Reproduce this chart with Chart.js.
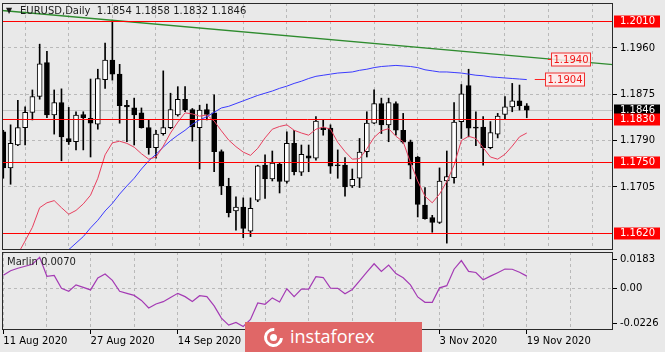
<!DOCTYPE html>
<html><head><meta charset="utf-8">
<script src="https://cdn.jsdelivr.net/npm/chart.js@4/dist/chart.umd.min.js"></script>
<style>
html,body{margin:0;padding:0;background:#E9E9E9;}
#wrap{position:relative;width:665px;height:352px;overflow:hidden;background:#E9E9E9;}
canvas{position:absolute;left:0;}
#main{top:0;}
#sub{top:251px;}
.t{position:absolute;font-family:'DejaVu Sans';font-size:10px;color:#1c1c1c;white-space:pre;line-height:12px;}
#wm{position:absolute;left:245px;top:322px;width:177px;height:30px;background:#E06767;}
#wm span{position:absolute;left:45px;top:2px;color:#fff;font-family:'Open Sans';font-size:18px;line-height:24px;}
#logo{position:absolute;left:19px;top:6px;width:13px;height:13px;border:3px solid #fff;border-right-color:transparent;border-radius:50%;transform:rotate(-40deg);}
#logo2{position:absolute;left:25px;top:12px;width:7px;height:7px;background:#fff;border-radius:50%;}
</style></head><body>
<div id="wrap">
<canvas id="main" width="665" height="251"></canvas>
<canvas id="sub" width="665" height="101"></canvas>
<div class="t" id="tri" style="left:6px;top:5px;font-size:8px;">▼</div>
<div class="t" id="title" style="left:20px;top:5px;"></div>
<div class="t" id="mlab" style="left:7px;top:256px;"></div>
<div id="wm"><div id="logo"></div><div id="logo2"></div><span>instaforex</span></div>
</div>
<script>
const symbolName = "EURUSD,Daily";
const dates = ["11 Aug 2020","12 Aug 2020","13 Aug 2020","14 Aug 2020","17 Aug 2020","18 Aug 2020","19 Aug 2020","20 Aug 2020","21 Aug 2020","24 Aug 2020","25 Aug 2020","26 Aug 2020","27 Aug 2020","28 Aug 2020","31 Aug 2020",
"1 Sep 2020","2 Sep 2020","3 Sep 2020","4 Sep 2020","7 Sep 2020","8 Sep 2020","9 Sep 2020","10 Sep 2020","11 Sep 2020","14 Sep 2020","15 Sep 2020","16 Sep 2020","17 Sep 2020","18 Sep 2020","21 Sep 2020","22 Sep 2020","23 Sep 2020","24 Sep 2020","25 Sep 2020","28 Sep 2020","29 Sep 2020","30 Sep 2020",
"1 Oct 2020","2 Oct 2020","5 Oct 2020","6 Oct 2020","7 Oct 2020","8 Oct 2020","9 Oct 2020","12 Oct 2020","13 Oct 2020","14 Oct 2020","15 Oct 2020","16 Oct 2020","19 Oct 2020","20 Oct 2020","21 Oct 2020","22 Oct 2020","23 Oct 2020","26 Oct 2020","27 Oct 2020","28 Oct 2020","29 Oct 2020","30 Oct 2020",
"2 Nov 2020","3 Nov 2020","4 Nov 2020","5 Nov 2020","6 Nov 2020","9 Nov 2020","10 Nov 2020","11 Nov 2020","12 Nov 2020","13 Nov 2020","16 Nov 2020","17 Nov 2020","18 Nov 2020","19 Nov 2020"];
const opens  = [1.1806,1.1740,1.1782,1.1814,1.1842,1.1871,1.1933,1.1837,1.1860,1.1794,1.1788,1.1838,1.1831,1.1820,1.1902,1.1938,1.1912,1.1855,1.1850,1.1841,1.1814,1.1777,1.1803,1.1814,1.1837,1.1866,1.1847,1.1814,1.1847,1.1841,1.1770,1.1706,1.1661,1.1668,1.1624,1.1681,1.1745,1.1720,1.1747,1.1715,1.1785,1.1732,1.1762,1.1758,1.1813,1.1813,1.1745,1.1745,1.1707,1.1721,1.1770,1.1822,1.1858,1.1819,1.1858,1.1809,1.1788,1.1760,1.1672,1.1649,1.1640,1.1716,1.1722,1.1825,1.1891,1.1814,1.1815,1.1777,1.1802,1.1838,1.1852,1.1863,1.1854];
const highs  = [1.1809,1.1819,1.1864,1.1852,1.1883,1.1967,1.1954,1.1883,1.1885,1.1851,1.1843,1.1843,1.1903,1.1921,1.1969,1.2011,1.1930,1.1864,1.1868,1.1850,1.1828,1.1809,1.1918,1.1877,1.1889,1.1889,1.1849,1.1855,1.1857,1.1874,1.1773,1.1721,1.1687,1.1685,1.1685,1.1745,1.1764,1.1771,1.1749,1.1806,1.1809,1.1782,1.1782,1.1834,1.1828,1.1819,1.1773,1.1759,1.1738,1.1794,1.1843,1.1883,1.1868,1.1868,1.1861,1.1840,1.1791,1.1761,1.1704,1.1653,1.1740,1.1771,1.1860,1.1893,1.1921,1.1843,1.1834,1.1825,1.1840,1.1871,1.1895,1.1892,1.1858];
const lows   = [1.1721,1.1710,1.1781,1.1782,1.1828,1.1866,1.1832,1.1802,1.1753,1.1783,1.1773,1.1773,1.1760,1.1811,1.1886,1.1901,1.1822,1.1788,1.1782,1.1813,1.1765,1.1758,1.1800,1.1812,1.1835,1.1843,1.1789,1.1738,1.1828,1.1733,1.1691,1.1650,1.1626,1.1612,1.1614,1.1678,1.1684,1.1716,1.1694,1.1712,1.1727,1.1726,1.1733,1.1754,1.1800,1.1730,1.1721,1.1688,1.1704,1.1704,1.1760,1.1821,1.1803,1.1788,1.1800,1.1785,1.1720,1.1650,1.1646,1.1622,1.1638,1.1602,1.1712,1.1794,1.1797,1.1781,1.1745,1.1775,1.1795,1.1830,1.1843,1.1846,1.1832];
const closes = [1.1740,1.1785,1.1814,1.1842,1.1871,1.1931,1.1837,1.1860,1.1797,1.1788,1.1837,1.1832,1.1822,1.1904,1.1938,1.1912,1.1854,1.1852,1.1837,1.1814,1.1777,1.1802,1.1814,1.1847,1.1866,1.1847,1.1815,1.1846,1.1838,1.1770,1.1707,1.1658,1.1668,1.1629,1.1666,1.1744,1.1720,1.1749,1.1715,1.1785,1.1733,1.1765,1.1758,1.1826,1.1810,1.1743,1.1744,1.1705,1.1719,1.1769,1.1822,1.1858,1.1819,1.1860,1.1809,1.1787,1.1745,1.1673,1.1647,1.1640,1.1716,1.1724,1.1824,1.1876,1.1813,1.1813,1.1777,1.1805,1.1835,1.1852,1.1863,1.1854,1.1846];
const redMA  = [null,null,1.1582,1.1606,1.1631,1.1667,1.1676,1.1680,1.1667,1.1655,1.1662,1.1674,1.1690,1.1721,1.1764,1.1786,1.1789,1.1785,1.1778,1.1766,1.1756,1.1760,1.1780,1.1804,1.1824,1.1841,1.1839,1.1835,1.1837,1.1826,1.1808,1.1791,1.1779,1.1769,1.1763,1.1776,1.1795,1.1811,1.1816,1.1819,1.1809,1.1804,1.1800,1.1811,1.1815,1.1811,1.1787,1.1770,1.1756,1.1757,1.1775,1.1796,1.1808,1.1812,1.1798,1.1788,1.1750,1.1716,1.1688,1.1676,1.1692,1.1715,1.1745,1.1790,1.1798,1.1794,1.1777,1.1760,1.1756,1.1765,1.1780,1.1797,1.1804];
const blueMA = [null,null,null,null,null,null,null,null,1.1578,1.1590,1.1602,1.1614,1.1630,1.1644,1.1661,1.1675,1.1692,1.1707,1.1721,1.1738,1.1753,1.1765,1.1778,1.1790,1.1800,1.1809,1.1820,1.1828,1.1834,1.1842,1.1850,1.1853,1.1858,1.1863,1.1868,1.1873,1.1877,1.1881,1.1886,1.1890,1.1895,1.1899,1.1904,1.1908,1.1910,1.1912,1.1914,1.1915,1.1916,1.1919,1.1921,1.1924,1.1926,1.1927,1.1928,1.1927,1.1926,1.1924,1.1920,1.1918,1.1916,1.1916,1.1915,1.1914,1.1912,1.1910,1.1909,1.1907,1.1906,1.1905,1.1904,1.1903,1.1902];
const marlin = [0.0083,0.0112,0.0128,0.0141,0.0154,0.0198,0.0077,0.0083,0.0000,-0.0019,0.0022,0.0006,-0.0010,0.0067,0.0091,0.0051,-0.0019,-0.0032,-0.0045,-0.0077,-0.0125,-0.0100,-0.0085,-0.0058,-0.0032,-0.0053,-0.0084,-0.0047,-0.0053,-0.0112,-0.0190,-0.0235,-0.0218,-0.0244,-0.0199,-0.0093,-0.0102,-0.0061,-0.0087,-0.0003,-0.0053,-0.0005,-0.0005,0.0074,0.0069,0.0001,0.0000,-0.0035,-0.0007,0.0048,0.0103,0.0157,0.0108,0.0149,0.0094,0.0067,0.0022,-0.0055,-0.0089,-0.0089,0.0003,0.0017,0.0122,0.0177,0.0108,0.0101,0.0055,0.0078,0.0100,0.0123,0.0122,0.0103,0.0078];
const marlinLast = 0.0070;
const trendIdx = [-0.5, 84.2];
const trendVal = [1.2029, 1.1929];
const levels = [1.2010, 1.1830, 1.1750, 1.1620];
const priceTicks = [1.1960, 1.1875, 1.1790, 1.1705];
const marlinTicks = [0.0183, 0, -0.0226];
const calloutVals = [1.1940, 1.1904];
const calloutIdx = [75.3, 74.5];
const calloutLineIdx = [74.9, 73.1];
const lastPrice = closes[closes.length-1];

const FONT = {family:"'DejaVu Sans'", size:10};
const xMin = -0.18, xMax = 83.86;
const gridIdx = []; for (let i = 0; i <= xMax; i += 6) gridIdx.push(i);
const BG = '#E9E9E9', GRID = '#B9B9B9', FRAME = '#2a2a2a';

document.getElementById('title').textContent = symbolName + '  ' + [opens, highs, lows, closes].map(a => a[a.length-1].toFixed(4)).join(' ');
document.getElementById('mlab').textContent = 'Marlin ' + marlinLast.toFixed(4);

function noPad(s){ s.paddingTop = 0; s.paddingBottom = 0; s.paddingLeft = 0; s.paddingRight = 0; }
function frame(chart){
  const {ctx, chartArea:a} = chart;
  ctx.save(); ctx.strokeStyle = FRAME; ctx.lineWidth = 1;
  ctx.strokeRect(Math.round(a.left)+0.5, Math.round(a.top)+0.5, Math.round(a.right-a.left)-1, Math.round(a.bottom-a.top)-1);
  ctx.restore();
}
const bgPlugin = {id:'bg', beforeDraw(chart){ const c=chart.ctx; c.save(); c.fillStyle=BG; c.fillRect(0,0,chart.width,chart.height); c.restore(); }};

const mainDecor = {
  id:'mainDecor',
  beforeDatasetsDraw(chart){
    const y = chart.scales.y, a = chart.chartArea, ctx = chart.ctx;
    ctx.save(); ctx.lineWidth = 1; ctx.strokeStyle = '#C4C4C4';
    const p = Math.round(y.getPixelForValue(lastPrice)) + 0.5;
    ctx.beginPath(); ctx.moveTo(a.left, p); ctx.lineTo(a.right, p); ctx.stroke();
    ctx.restore();
  },
  afterDatasetsDraw(chart){
    const y = chart.scales.y, x = chart.scales.x, a = chart.chartArea, ctx = chart.ctx;
    ctx.save(); ctx.lineWidth = 1; ctx.strokeStyle = '#FF0000';
    levels.forEach(v => { const p = Math.round(y.getPixelForValue(v)) + 0.5; ctx.beginPath(); ctx.moveTo(a.left, p); ctx.lineTo(a.right, p); ctx.stroke(); });
    ctx.font = "10px 'DejaVu Sans'"; ctx.textBaseline = 'middle';
    calloutVals.forEach((v, k) => {
      const py = Math.round(y.getPixelForValue(v)) + 0.5;
      const lx = x.getPixelForValue(calloutLineIdx[k]);
      const bx = Math.round(x.getPixelForValue(calloutIdx[k])) + 0.5;
      ctx.strokeStyle = '#FF2020';
      ctx.beginPath(); ctx.moveTo(lx, py); ctx.lineTo(bx, py); ctx.stroke();
      const t = v.toFixed(4); const w = Math.ceil(ctx.measureText(t).width) + 4;
      ctx.fillStyle = 'rgba(255,235,235,0.85)'; ctx.fillRect(bx, py-6.5, w, 13);
      ctx.strokeStyle = '#F03030'; ctx.strokeRect(bx, py-6.5, w, 13);
      ctx.fillStyle = '#F01818'; ctx.fillText(t, bx+2, py+0.5);
    });
    ctx.restore();
  },
  afterDraw(chart){
    frame(chart);
    const y = chart.scales.y, a = chart.chartArea, ctx = chart.ctx;
    ctx.save(); ctx.font = "10px 'DejaVu Sans'"; ctx.textBaseline = 'middle';
    const box = (v, col) => {
      const p = Math.round(y.getPixelForValue(v));
      ctx.fillStyle = col; ctx.fillRect(a.right + 1, p - 5.5, 46, 12);
      ctx.fillStyle = '#FFFFFF'; ctx.fillText(v.toFixed(4), a.right + 7, p + 0.5);
    };
    box(lastPrice, '#000000');
    levels.forEach(v => box(v, '#FF0000'));
    ctx.restore();
  }
};

const idx = dates.map((d, i) => i);
const bodies = idx.map(i => ({x:i, y:[opens[i], closes[i]]}));
const wicks = idx.map(i => ({x:i, y:[lows[i], highs[i]]}));
const bodyColors = idx.map(i => closes[i] >= opens[i] ? '#FFFFFF' : '#000000');

const xCommon = (showLabels) => ({
  type:'linear', min:xMin, max:xMax, offset:false,
  afterBuildTicks: s => { s.ticks = gridIdx.map(v => ({value:v})); },
  ticks:{ display:showLabels, autoSkip:false, maxRotation:0, align:'start', font:FONT, color:'#000', padding:1,
          callback: v => (v % 12 === 0 && dates[v]) ? dates[v] : '' },
  grid:{ color:GRID, lineWidth:1, drawTicks:showLabels, tickLength:4,
         tickColor: c => (c.tick && c.tick.value % 12 === 0 && dates[c.tick.value]) ? '#000' : 'rgba(0,0,0,0)' },
  border:{ display:false, dash:[3,3] },
  afterFit: s => { s.height = showLabels ? 22 : 0; noPad(s); }
});

new Chart(document.getElementById('main'), {
  data:{ datasets:[
    {type:'bar', data:wicks, backgroundColor:'#000', borderWidth:0, barThickness:1, grouped:false, order:3, clip:0},
    {type:'bar', data:bodies, backgroundColor:bodyColors, borderColor:'#000', borderWidth:1, borderSkipped:false, barThickness:5, minBarLength:1, grouped:false, order:2, clip:0},
    {type:'line', data:idx.map(i => ({x:i, y:redMA[i]})), borderColor:'#E8405F', borderWidth:1, pointRadius:0, tension:0, order:1, clip:0},
    {type:'line', data:idx.map(i => ({x:i, y:blueMA[i]})), borderColor:'#3B3BFF', borderWidth:1, pointRadius:0, tension:0, order:1, clip:0},
    {type:'line', data:trendIdx.map((v, k) => ({x:v, y:trendVal[k]})), borderColor:'#2E8B2E', borderWidth:1.4, pointRadius:0, order:1, clip:0}
  ]},
  options:{
    responsive:false, animation:false, events:[],
    layout:{ padding:{left:2, top:3, right:0, bottom:1} },
    plugins:{ legend:{display:false}, tooltip:{enabled:false} },
    scales:{
      x: xCommon(false),
      y:{ type:'linear', position:'right', min:1.15894, max:1.20425,
          afterBuildTicks: s => { s.ticks = priceTicks.map(v => ({value:v})); },
          ticks:{ font:FONT, color:'#000', padding:3, callback: v => v.toFixed(4) },
          grid:{ color:GRID, tickLength:4, tickColor:'#000' },
          border:{ display:false, dash:[3,3] },
          afterFit: s => { s.width = 52; noPad(s); } }
    }
  },
  plugins:[bgPlugin, mainDecor]
});

const subDecor = { id:'subDecor', afterDraw(chart){ frame(chart); } };
new Chart(document.getElementById('sub'), {
  type:'line',
  data:{ datasets:[
    {data:idx.map(i => ({x:i, y:marlin[i]})), borderColor:'#A43AB4', borderWidth:1.2, pointRadius:0, tension:0, clip:0}
  ]},
  options:{
    responsive:false, animation:false, events:[],
    layout:{ padding:{left:2, top:1, right:0, bottom:0} },
    plugins:{ legend:{display:false}, tooltip:{enabled:false} },
    scales:{
      x: xCommon(true),
      y:{ type:'linear', position:'right', min:-0.0266, max:0.0232,
          afterBuildTicks: s => { s.ticks = marlinTicks.map(v => ({value:v})); },
          ticks:{ font:FONT, color:'#000', padding:3, callback: v => v === 0 ? '0.00' : v.toFixed(4) },
          grid:{ color: c => (c.tick && c.tick.value === 0) ? GRID : 'rgba(0,0,0,0)', tickLength:4, tickColor:'#000' },
          border:{ display:false, dash:[3,3] },
          afterFit: s => { s.width = 52; noPad(s); } }
    }
  },
  plugins:[bgPlugin, subDecor]
});
</script>
</body></html>
